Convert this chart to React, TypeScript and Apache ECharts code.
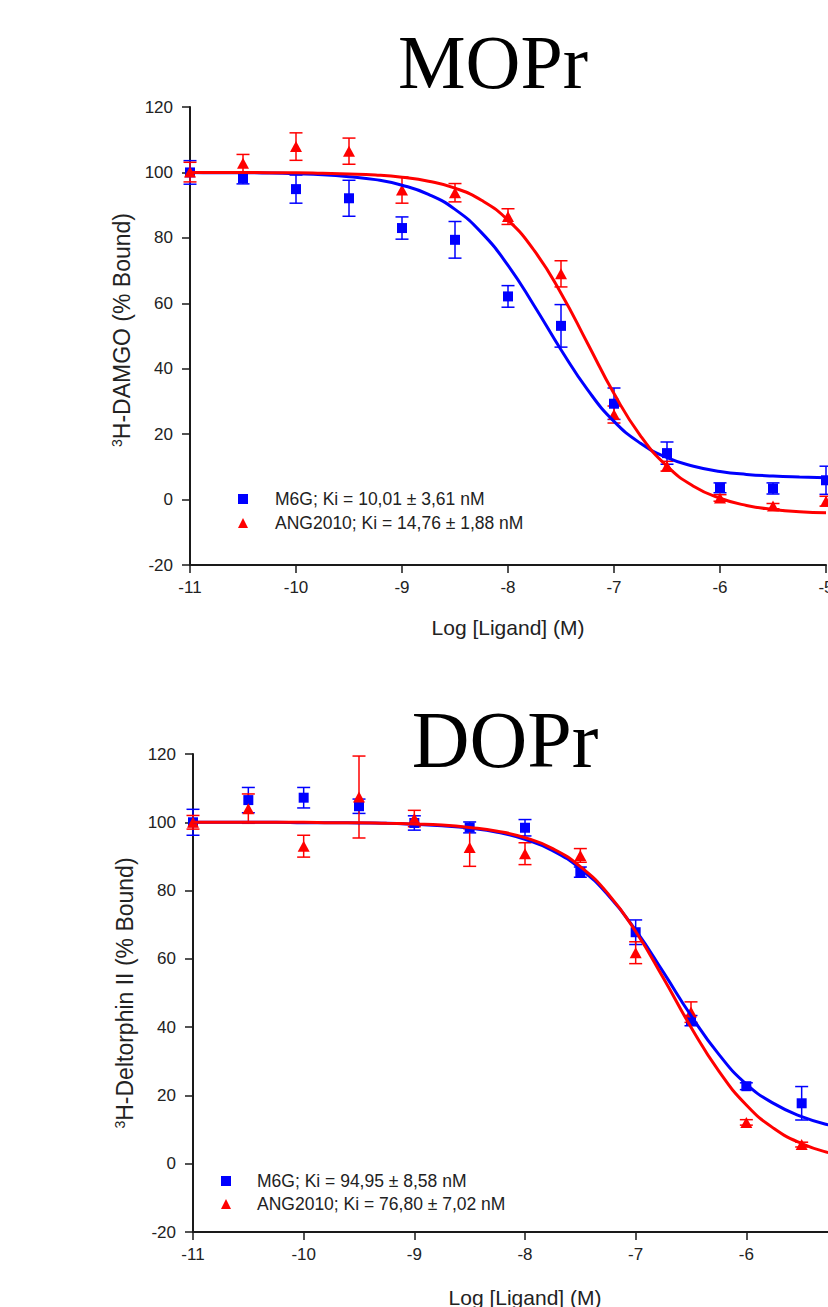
import React, { useEffect, useRef } from "react";
import * as echarts from "echarts";

// ---------- data ----------
const LOG_DOSE_MOPR = [-11, -10.5, -10, -9.5, -9, -8.5, -8, -7.5, -7, -6.5, -6, -5.5, -5];
const MOPR_M6G_MEAN = [100, 98.2, 94.9, 92.1, 83, 79.4, 62.1, 53.1, 29.3, 14.2, 3.6, 3.4, 5.9];
const MOPR_M6G_SEM = [3.6, 1.7, 4.3, 5.5, 3.4, 5.6, 3.3, 6.5, 4.8, 3.4, 1.5, 1.7, 4.3];
const MOPR_ANG_MEAN = [100.1, 102.8, 107.9, 106.5, 94.6, 93.8, 86.5, 69, 26, 10.2, 0.5, -2, -0.5];
const MOPR_ANG_SEM = [3, 2.7, 4.2, 4, 4, 2.8, 2.4, 4, 2.6, 1.5, 1, 0.8, 1.5];

const LOG_DOSE_DOPR = [-11, -10.5, -10, -9.5, -9, -8.5, -8, -7.5, -7, -6.5, -6, -5.5];
const DOPR_M6G_MEAN = [100, 106.5, 107.2, 104.7, 99.8, 98.5, 98.4, 85.4, 67.8, 41.9, 22.7, 17.7];
const DOPR_M6G_SEM = [3.8, 3.7, 3, 2.1, 2.1, 1.6, 2.4, 1.5, 3.6, 1.5, 1, 4.9];
const DOPR_ANG_MEAN = [100, 104, 93, 107.4, 101.1, 92.6, 90.8, 90.3, 61.8, 44.4, 12.1, 5.6];
const DOPR_ANG_SEM = [2, 4.3, 3.2, 12, 2.4, 5.5, 3.2, 2, 3.2, 3, 0.8, 0.7];

// fitted curves
const CURVE_X = [-11, -10.75, -10.5, -10.25, -10, -9.75, -9.5, -9.25, -9, -8.75, -8.5, -8.25, -8, -7.75, -7.5, -7.25, -7, -6.75, -6.5, -6.25, -6, -5.75, -5.5, -5.25, -5];
const MOPR_M6G_CURVE = [100, 99.9, 99.9, 99.8, 99.6, 99.3, 98.7, 97.8, 96.1, 93.3, 88.7, 81.6, 71.6, 59.1, 45.8, 33.6, 23.9, 17.2, 12.8, 10.2, 8.6, 7.7, 7.2, 6.9, 6.7];
const MOPR_ANG_CURVE = [100, 100, 100, 99.9, 99.9, 99.75, 99.55, 99.2, 98.5, 97.3, 95.2, 91.5, 85.4, 76.0, 63.1, 47.8, 32.4, 19.5, 10.2, 4.1, 0.4, -1.8, -3.0, -3.7, -4.0];
const DOPR_M6G_CURVE = [100, 100, 100, 100, 99.9, 99.9, 99.8, 99.7, 99.4, 99.0, 98.3, 97.1, 95.0, 91.7, 86.4, 78.7, 68.4, 56.1, 43.4, 32.1, 23.3, 17.6, 13.8, 11.3, 9.8];
const DOPR_ANG_CURVE = [100, 100, 100, 100, 100, 99.9, 99.9, 99.7, 99.5, 99.2, 98.5, 97.4, 95.5, 92.3, 87.0, 79.1, 68.0, 54.4, 40.0, 27.2, 17.2, 10.3, 5.9, 3.2, 1.6];

const TITLES = ["MOPr", "DOPr"];
const LEGEND_MOPR = ["M6G; Ki = 10,01 ± 3,61 nM", "ANG2010; Ki = 14,76 ± 1,88 nM"];
const LEGEND_DOPR = ["M6G; Ki = 94,95 ± 8,58 nM", "ANG2010; Ki = 76,80 ± 7,02 nM"];
const Y_TITLES = ["H-DAMGO (% Bound)", "H-Deltorphin II (% Bound)"];
const X_TITLE = "Log [Ligand] (M)";

const BLUE = "#0000ff";
const RED = "#ff0000";
const SANS = "Liberation Sans, Arial, sans-serif";
const SERIF = "Liberation Serif, Times New Roman, serif";

const zip = (xs: number[], ys: number[]) => xs.map((x, i) => [x, ys[i]]);
const errData = (xs: number[], m: number[], s: number[]) => xs.map((x, i) => [x, m[i] - s[i], m[i] + s[i]]);

function errRender(color: string) {
  return (params: any, api: any) => {
    const x = api.value(0);
    const p1 = api.coord([x, api.value(1)]);
    const p2 = api.coord([x, api.value(2)]);
    const w = 6.5;
    const st = { stroke: color, lineWidth: 1.5 };
    return {
      type: "group",
      children: [
        { type: "line", shape: { x1: p1[0], y1: p1[1], x2: p2[0], y2: p2[1] }, style: st },
        { type: "line", shape: { x1: p1[0] - w, y1: p1[1], x2: p1[0] + w, y2: p1[1] }, style: st },
        { type: "line", shape: { x1: p2[0] - w, y1: p2[1], x2: p2[0] + w, y2: p2[1] }, style: st },
      ],
    };
  };
}

function axisX(gridIndex: number, gap: number, showMax: boolean) {
  return {
    type: "value",
    gridIndex,
    min: -11,
    max: -5,
    interval: 1,
    axisLine: { show: true, onZero: false, lineStyle: { color: "#1a1a1a", width: 2 } },
    axisTick: { show: true, length: 8, lineStyle: { color: "#1a1a1a", width: 1.5 } },
    splitLine: { show: false },
    axisLabel: { fontSize: 17, color: "#222", margin: 14, fontFamily: SANS, showMinLabel: true, showMaxLabel: showMax },
    name: X_TITLE,
    nameLocation: "middle",
    nameGap: gap,
    nameTextStyle: { fontSize: 21, color: "#222", fontFamily: SANS },
  };
}

function axisY(gridIndex: number, title: string, gap: number, shift: number) {
  return {
    type: "value",
    gridIndex,
    min: -20,
    max: 120,
    interval: 20,
    axisLine: { show: true, onZero: false, lineStyle: { color: "#1a1a1a", width: 2 } },
    axisTick: { show: true, length: 8, lineStyle: { color: "#1a1a1a", width: 1.5 } },
    splitLine: { show: false },
    axisLabel: { fontSize: 17, color: "#222", margin: 17, fontFamily: SANS },
    name: "{sup|3}{b|" + title + "}",
    nameLocation: "middle",
    nameGap: gap,
    nameTextStyle: {
      color: "#222",
      fontFamily: SANS,
      fontSize: 23,
      padding: [0, 0, 0, shift],
      rich: {
        sup: { fontSize: 14, fontFamily: SANS, color: "#222", verticalAlign: "top", lineHeight: 25 },
        b: { fontSize: 23, fontFamily: SANS, color: "#222", lineHeight: 25 },
      },
    },
  };
}

function seriesFor(idx: number, xs: number[], m6g: number[], m6gS: number[], ang: number[], angS: number[], c1: number[], c2: number[], names: string[]) {
  const base = { xAxisIndex: idx, yAxisIndex: idx };
  return [
    { ...base, type: "custom", name: "err-m6g-" + idx, renderItem: errRender(BLUE), data: errData(xs, m6g, m6gS), encode: { x: 0, y: [1, 2] }, silent: true },
    { ...base, type: "line", name: "fit-m6g-" + idx, data: zip(CURVE_X, c1), smooth: true, showSymbol: false, symbol: "none", lineStyle: { color: BLUE, width: 3 }, itemStyle: { color: BLUE }, silent: true },
    { ...base, type: "scatter", name: names[0], data: zip(xs, m6g), symbol: "rect", symbolSize: 10, itemStyle: { color: BLUE, opacity: 1 } },
    { ...base, type: "custom", name: "err-ang-" + idx, renderItem: errRender(RED), data: errData(xs, ang, angS), encode: { x: 0, y: [1, 2] }, silent: true },
    { ...base, type: "line", name: "fit-ang-" + idx, data: zip(CURVE_X, c2), smooth: true, showSymbol: false, symbol: "none", lineStyle: { color: RED, width: 3 }, itemStyle: { color: RED }, silent: true },
    { ...base, type: "scatter", name: names[1], data: zip(xs, ang), symbol: "triangle", symbolSize: [12, 11], itemStyle: { color: RED, opacity: 1 } },
  ];
}

function legendFor(names: string[], left: number, top: number, gap: number, pad: number) {
  return {
    left,
    top,
    orient: "vertical",
    padding: 0,
    itemGap: gap,
    itemWidth: 10,
    itemHeight: 10,
    selectedMode: false,
    data: [
      { name: names[0], icon: "rect" },
      { name: names[1], icon: "triangle" },
    ],
    textStyle: { fontSize: 17.5, color: "#222", fontFamily: SANS, lineHeight: 20, padding: [0, 0, 0, pad] },
  };
}

export default function App() {
  const ref = useRef<HTMLDivElement>(null);
  useEffect(() => {
    if (!ref.current) return;
    const chart = echarts.init(ref.current, null, { renderer: "svg" });
    const option: any = {
      animation: false,
      backgroundColor: "#ffffff",
      grid: [
        { left: 190, top: 107, right: 2, height: 458, containLabel: false, outerBoundsMode: "none" },
        { left: 193, top: 754, right: -29, height: 478, containLabel: false, outerBoundsMode: "none" },
      ],
      xAxis: [axisX(0, 52, true), axisX(1, 55, false)],
      yAxis: [axisY(0, Y_TITLES[0], 52, 12), axisY(1, Y_TITLES[1], 55, 0)],
      legend: [
        legendFor(LEGEND_MOPR, 238, 489, 4, 22),
        legendFor(LEGEND_DOPR, 221, 1171, 3, 21),
      ],
      graphic: [
        { type: "text", x: 493, y: 62, style: { text: TITLES[0], font: "76px " + SERIF, fill: "#000", align: "center", verticalAlign: "middle" } },
        { type: "text", x: 505, y: 740, style: { text: TITLES[1], font: "80px " + SERIF, fill: "#000", align: "center", verticalAlign: "middle" } },
      ],
      series: [
        ...seriesFor(0, LOG_DOSE_MOPR, MOPR_M6G_MEAN, MOPR_M6G_SEM, MOPR_ANG_MEAN, MOPR_ANG_SEM, MOPR_M6G_CURVE, MOPR_ANG_CURVE, LEGEND_MOPR),
        ...seriesFor(1, LOG_DOSE_DOPR, DOPR_M6G_MEAN, DOPR_M6G_SEM, DOPR_ANG_MEAN, DOPR_ANG_SEM, DOPR_M6G_CURVE, DOPR_ANG_CURVE, LEGEND_DOPR),
      ],
    };
    chart.setOption(option);
    return () => chart.dispose();
  }, []);
  return <div ref={ref} style={{ position: "absolute", left: 0, top: 0, width: 828, height: 1307 }} />;
}
